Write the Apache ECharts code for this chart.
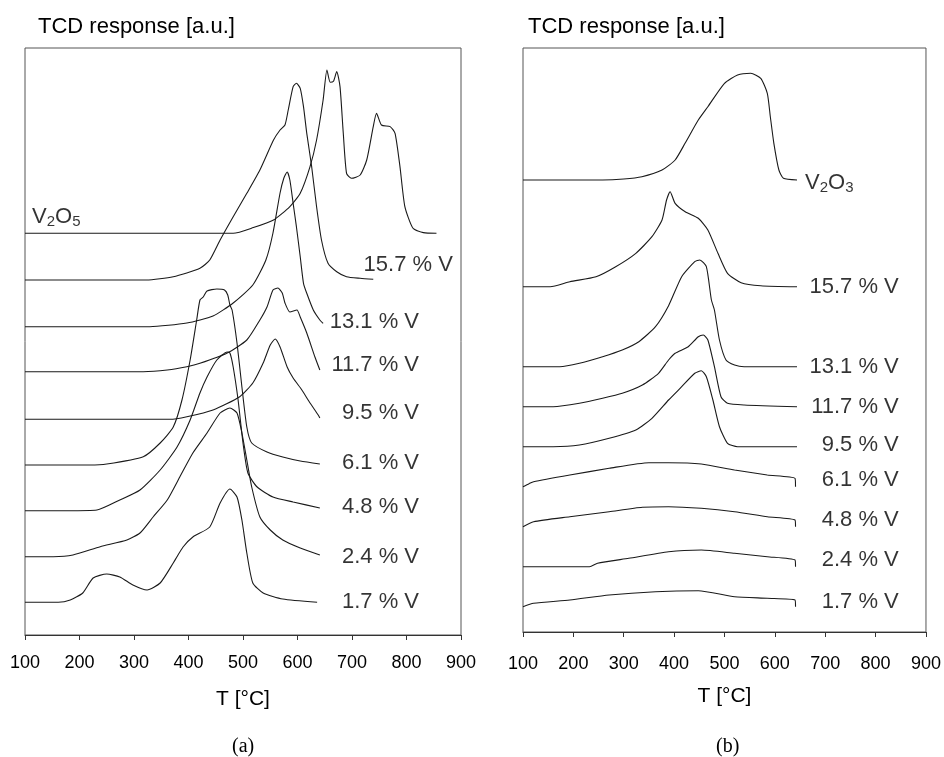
<!DOCTYPE html>
<html><head><meta charset="utf-8">
<script src="https://cdn.jsdelivr.net/npm/echarts@6/dist/echarts.min.js"></script>
<style>html,body{margin:0;padding:0;background:#fff}#c{width:944px;height:757px}</style>
</head><body><div id="c"></div>
<script>
// ---------------- data ----------------
const xTicks = [100, 200, 300, 400, 500, 600, 700, 800, 900];
const yTitle = 'TCD response [a.u.]';
const xTitle = 'T [°C]';
const panelTags = ['(a)', '(b)'];

// Panel (a): curve names and vertical offsets (a.u.)
const aNames = ['V2O5', '15.7 % V', '13.1 % V', '11.7 % V', '9.5 % V', '6.1 % V', '4.8 % V', '2.4 % V', '1.7 % V'];
const aOffsets = [401.7, 355, 308.3, 263.3, 215.7, 170, 124.3, 78.3, 32.7];
// [T (°C), TCD signal above baseline (a.u.)]
const a_V2O5 = [[100,0],[482,0],[519,5.7],[556,13.3],[586,26.7],[605,40],[623,66.7],[635,93.3],[647,133.3],[654,163.3],[660,151],[666,152],[672,161.7],[678,146.7],[684,100],[690,60],[699,55],[715,58.3],[727,73.3],[739,106.7],[745,120],[754,108.3],[770,106.7],[779,100],[788,66.7],[797,26.7],[812,5],[831,0.7],[855,0]];
const a_157 = [[100,0],[323,0],[372,3.3],[421,11.7],[439,20],[458,40],[482,63.3],[507,86.7],[531,110],[556,140],[568,150],[577,155],[583,170],[592,193.3],[598,196.7],[605,191.7],[611,173.3],[617,146.7],[626,113.3],[635,73.3],[644,40],[656,16.7],[672,8.3],[690,3.3],[715,1.7],[739,0.7]];
const a_131 = [[100,0],[329,0],[397,3.7],[445,10.7],[482,23.7],[518,41.7],[542,66.7],[555,93.7],[568,133.7],[575,148.7],[581,154.7],[586,146.7],[592,123.4],[598,100],[605,70],[611,43.4],[617,33.4],[629,16.7],[641,6.7],[647,3.4]];
const a_117 = [[100,0],[317,0],[361,1.7],[397,5],[421,8.4],[471,18.7],[507,31.7],[531,51.7],[544,64.7],[555,81.7],[564,83.7],[572,78.7],[577,68.7],[586,59.7],[599,61.7],[605,54.7],[617,38.7],[632,14.7],[641,1.7]];
const a_95 = [[100,0],[366,0],[397,2.6],[445,9.3],[494,22.6],[518,36.3],[537,56.3],[550,74.3],[559,80.3],[568,72.3],[581,52.3],[592,41.3],[608,29.3],[623,16.3],[638,4.3],[641,1.3]];
const a_61 = [[100,0],[219,0],[250,1],[317,8.3],[348,22],[372,38],[388,65],[403,105],[415,145],[421,165],[427,168],[434,174],[452,176],[466,175],[472,170],[476,160],[480,155],[489,122],[498,78],[507,38],[516,22],[544,13],[573,8],[605,4],[641,1]];
const a_48 = [[100,0],[177,0],[232,0.7],[274,10.7],[311,20.7],[348,40.7],[379,63.7],[403,90.7],[421,117.7],[434,133.7],[452,150.7],[471,158.7],[476,157.7],[482,143.7],[491,110.7],[500,67.7],[509,37.7],[526,23.7],[555,13.7],[592,8.7],[641,2.7]];
const a_24 = [[100,0],[152,0],[188,1.7],[238,10],[287,16.7],[311,23.7],[335,39.7],[361,56.7],[384,79.7],[408,103.7],[434,123.7],[458,143.7],[476,148.7],[489,143.7],[498,123.7],[507,96.7],[516,69.7],[531,39.7],[550,26.7],[573,16.7],[605,8.7],[641,1.7]];
const a_17 = [[100,0],[161,0],[183,2.3],[206,9.3],[225,24.3],[250,28.3],[274,25.3],[298,17.3],[324,12.3],[348,19.3],[372,39.3],[390,55.3],[408,65.3],[439,75.3],[458,99.3],[476,113.3],[489,105.3],[498,82.3],[507,49.3],[518,19.3],[537,9.3],[573,3.3],[636,0]];
const aCurves = [a_V2O5, a_157, a_131, a_117, a_95, a_61, a_48, a_24, a_17];

// Panel (b)
const bNames = ['V2O3', '15.7 % V', '13.1 % V', '11.7 % V', '9.5 % V', '6.1 % V', '4.8 % V', '2.4 % V', '1.7 % V'];
const bOffsets = [452, 345.3, 265.3, 225.3, 185.3, 145.3, 105.3, 65.3, 25.3];
const b_V2O3 = [[100,0],[258,0],[300,1],[336,3.3],[376,10],[402,20],[422,37],[448,60],[467,73.3],[500,96.7],[526,105],[552,106.7],[572,101.7],[585,86.7],[591,63.3],[598,36.7],[608,10],[617,1.7],[644,0]];
const b_157 = [[100,0],[154,0],[193,5],[245,10],[284,20],[324,33.4],[356,50],[376,66.7],[385,86.7],[392,95],[402,83.4],[422,75],[448,68.4],[467,56.7],[487,33.4],[506,13.4],[533,4],[572,1],[644,0]];
const b_131 = [[100,0],[173,0],[212,3.4],[258,10],[297,16.7],[330,25],[363,40],[389,61],[415,90],[441,105],[451,106.7],[464,100],[474,66.7],[480,56.7],[490,26.7],[503,6.7],[520,1.7],[539,0],[644,0]];
const b_117 = [[100,0],[160,0],[212,3.4],[258,8.4],[297,13.4],[337,21.7],[369,33.4],[389,46.7],[402,53.4],[428,60],[448,70],[458,71.7],[467,66.7],[480,40],[493,10],[506,3.4],[539,1.7],[644,0]];
const b_95 = [[100,0],[160,0],[212,1.7],[271,8.4],[324,16.7],[356,28.4],[389,46.7],[415,60],[441,73.4],[454,76],[464,70],[477,46.7],[490,20],[506,3.4],[526,0],[644,0]];
const b_61 = [[100,0],[112,3],[121,5],[193,11.7],[271,18.4],[350,24],[389,24],[454,22.7],[520,16.7],[585,11.7],[640,8.4],[641,0]];
const b_48 = [[100,0],[121,5],[193,10],[271,15],[337,19.4],[389,20],[454,18.4],[520,15],[585,10],[640,6.7],[641,0]];
const b_24 = [[100,0],[232,0],[248,3.4],[310,8.4],[389,15],[454,16.7],[520,13.4],[585,10],[640,6.7],[641,0]];
const b_17 = [[100,0],[121,3.4],[193,6.7],[271,11.7],[363,15],[448,16],[520,10],[585,8.4],[640,6.7],[641,0]];
const bCurves = [b_V2O3, b_157, b_131, b_117, b_95, b_61, b_48, b_24, b_17];

// ---------------- chart ----------------
const FONT = '"Liberation Sans", Arial, sans-serif';
const SERIF = '"Liberation Serif", "Times New Roman", serif';
const chart = echarts.init(document.getElementById('c'), null, { renderer: 'canvas' });

function curveSeries(curves, offsets, idx) {
  return curves.map((c, i) => ({
    type: 'line', xAxisIndex: idx, yAxisIndex: idx,
    data: c.map(p => [p[0], p[1] + offsets[i]]),
    showSymbol: false, symbol: 'none', silent: true,
    smooth: 0.2,
    lineStyle: { color: '#1a1a1a', width: 1.1 }, z: 3
  }));
}

const richOxide = {
  m: { fontSize: 22, fontFamily: FONT, color: '#000' },
  s: { fontSize: 15, fontFamily: FONT, color: '#000', padding: [10, 0, 0, 0] }
};

function labelSeries(names, offsets, idx, oxidePos, rightT, dy, specialRight) {
  const data = names.map((n, i) => {
    if (i === 0) {
      const sub = n.match(/\d/g);
      return {
        value: [oxidePos[0], offsets[0] + oxidePos[1]],
        label: { show: true, position: 'right', distance: 0,
          formatter: '{m|V}{s|' + sub[0] + '}{m|O}{s|' + sub[1] + '}', rich: richOxide }
      };
    }
    const t = (specialRight && specialRight[i]) ? specialRight[i] : rightT;
    return {
      value: [t, offsets[i] + dy[i]],
      label: { show: true, position: 'left', distance: 0, formatter: n,
        fontSize: 22, fontFamily: FONT, color: '#000' }
    };
  });
  return { type: 'scatter', xAxisIndex: idx, yAxisIndex: idx, symbolSize: 0, silent: true, data, z: 5 };
}

function xAxisCfg(gridIndex, margin) {
  return {
    type: 'value', gridIndex, min: xTicks[0], max: xTicks[xTicks.length - 1], interval: 100,
    name: xTitle, nameLocation: 'middle', nameGap: 54,
    nameTextStyle: { fontSize: 21, fontFamily: FONT, color: '#000' },
    axisLine: { show: true, lineStyle: { color: '#333', width: 1 } },
    axisTick: { show: true, inside: false, length: 5, lineStyle: { color: '#333' } },
    axisLabel: { fontSize: 18, fontFamily: FONT, color: '#000', margin },
    splitLine: { show: false }
  };
}
function yAxisCfg(gridIndex, max) {
  return { type: 'value', gridIndex, min: 0, max, show: false, splitLine: { show: false } };
}

const option = {
  backgroundColor: '#fff',
  animation: false,
  title: [
    { text: yTitle, left: 33, top: 11, textStyle: { fontSize: 22, fontWeight: 'normal', fontFamily: FONT, color: '#000' } },
    { text: yTitle, left: 523, top: 11, textStyle: { fontSize: 22, fontWeight: 'normal', fontFamily: FONT, color: '#000' } }
  ],
  grid: [
    { left: 25, top: 48, width: 436, height: 587, show: true, borderColor: '#555', borderWidth: 1, backgroundColor: 'transparent' },
    { left: 523, top: 48, width: 407, height: 584, show: true, borderColor: '#555', borderWidth: 1, backgroundColor: 'transparent' }
  ],
  xAxis: [xAxisCfg(0, 19), xAxisCfg(1, 23)],
  yAxis: [yAxisCfg(0, 587), yAxisCfg(1, 584)],
  graphic: [
    { type: 'text', left: 232, top: 737, style: { text: panelTags[0], font: '20px ' + SERIF, fill: '#000' } },
    { type: 'text', left: 716, top: 737, style: { text: panelTags[1], font: '20px ' + SERIF, fill: '#000' } }
  ],
  series: [
    ...curveSeries(aCurves, aOffsets, 0),
    ...curveSeries(bCurves, bOffsets, 1),
    labelSeries(aNames, aOffsets, 0, [113, 16], 823, [0, 15, 5, 7, 6, 2, 4, 0, 0], { 1: 885 }),
    labelSeries(bNames, bOffsets, 1, [660, -3], 846, [0, 0, 0, 0, 2, 7, 7, 7, 5], null)
  ]
};
chart.setOption(option);
</script>
</body></html>
